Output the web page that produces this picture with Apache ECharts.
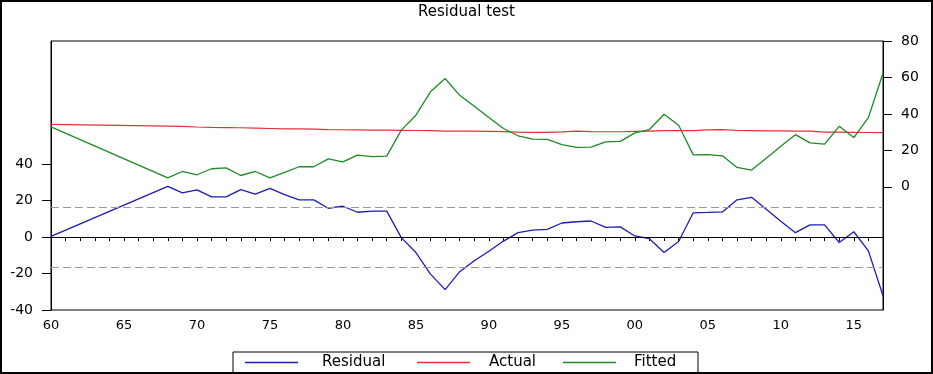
<!DOCTYPE html>
<html>
<head>
<meta charset="utf-8">
<script src="https://cdn.jsdelivr.net/npm/echarts@6/dist/echarts.min.js"></script>
<style>
html,body{margin:0;padding:0;background:#fff;}
#chart{width:933px;height:374px;}
</style>
</head>
<body>
<div id="chart"></div>
<script>
// ---- data ----
const years = [1960, 1968, 1969, 1970, 1971, 1972, 1973, 1974, 1975, 1976, 1977, 1978, 1979,
  1980, 1981, 1982, 1983, 1984, 1985, 1986, 1987, 1988, 1989, 1990, 1991, 1992, 1993, 1994,
  1995, 1996, 1997, 1998, 1999, 2000, 2001, 2002, 2003, 2004, 2005, 2006, 2007, 2008, 2009,
  2010, 2011, 2012, 2013, 2014, 2015, 2016, 2017];
const residual = [0.4, 27.8, 24.2, 25.9, 22.0, 22.0, 26.0, 23.5, 26.7, 23.3, 20.4, 20.4, 15.8,
  16.9, 13.6, 14.2, 14.2, -0.3, -8.5, -20.3, -28.8, -19.0, -13.0, -7.8, -2.2, 2.4, 3.8, 4.2,
  7.7, 8.4, 8.8, 5.3, 5.6, 0.6, -0.9, -8.5, -2.4, 13.3, 13.5, 13.8, 20.4, 21.8, 15.3,
  8.7, 2.4, 6.7, 6.7, -3.0, 2.9, -7.6, -32.2];
const actual = [34.2, 33.3, 33.2, 32.8, 32.6, 32.5, 32.4, 32.2, 32.0, 31.8, 31.8, 31.6, 31.4,
  31.3, 31.2, 31.1, 31.1, 31.0, 30.9, 30.8, 30.6, 30.5, 30.5, 30.4, 30.3, 30.0, 29.9, 29.9,
  30.1, 30.6, 30.3, 30.2, 30.2, 30.4, 30.6, 30.8, 30.8, 30.8, 31.2, 31.4, 30.9, 30.8, 30.7,
  30.7, 30.6, 30.5, 30.0, 30.0, 29.9, 29.8, 29.7];
const fitted = [32.9, 4.9, 8.4, 6.6, 9.9, 10.4, 6.2, 8.4, 4.9, 7.9, 11.0, 11.0, 15.3,
  13.7, 17.4, 16.6, 16.8, 31.1, 39.3, 52.1, 59.4, 50.2, 44.2, 38.0, 32.0, 28.0, 26.2, 26.0,
  23.2, 21.6, 21.8, 24.7, 24.9, 29.6, 31.4, 39.8, 33.8, 17.5, 17.6, 17.0, 10.6, 9.2, 15.7,
  22.3, 28.6, 24.1, 23.4, 33.2, 27.0, 38.0, 62.3];
const bandLevels = [16.4, -16.4];   // dashed +/- std. error lines
const zeroLevel = [0];
const xLabelYears = [1960, 1965, 1970, 1975, 1980, 1985, 1990, 1995, 2000, 2005, 2010, 2015];
const leftTicks = [-40, -20, 0, 20, 40];
const rightTicks = [0, 20, 40, 60, 80];
const seriesNames = ['Residual', 'Actual', 'Fitted'];

const pairs = (vals) => years.map((y, i) => [y, vals[i]]);
const FONT = 'DejaVu Sans';

const chart = echarts.init(document.getElementById('chart'), null, {renderer: 'canvas'});
chart.setOption({
  animation: false,
  backgroundColor: '#fff',
  title: {
    text: 'Residual test',
    left: 'center',
    top: 0,
    textStyle: {fontFamily: FONT, fontSize: 15, fontWeight: 'normal', color: '#000'}
  },
  grid: {
    left: 51, right: 50, top: 41, bottom: 64,
    show: true, borderColor: '#000', borderWidth: 1, backgroundColor: 'transparent'
  },
  legend: {
    left: 233, top: 352,
    orient: 'horizontal',
    icon: 'rect',
    itemWidth: 53, itemHeight: 1.5,
    itemGap: 0,
    padding: [3, 7, 3, 12],
    borderColor: '#000', borderWidth: 1,
    backgroundColor: '#fff',
    selectedMode: false,
    textStyle: {fontFamily: FONT, fontSize: 15, lineHeight: 15, color: '#000'},
    data: [
      {name: seriesNames[0], textStyle: {width: 95, padding: [0, 0, 0, 19]}},
      {name: seriesNames[1], textStyle: {width: 74, padding: [0, 0, 0, 14]}},
      {name: seriesNames[2], textStyle: {width: 57, padding: [0, 0, 0, 13]}}
    ]
  },
  xAxis: {
    type: 'value',
    min: 1960, max: 2017, interval: 1,
    axisLine: {show: true, lineStyle: {color: '#000', width: 1}},
    axisTick: {show: true, inside: false, length: 4, lineStyle: {color: '#000'}},
    axisLabel: {
      customValues: xLabelYears,
      margin: 9,
      fontFamily: FONT, fontSize: 13, color: '#000',
      formatter: (v) => String(v % 100).padStart(2, '0')
    },
    splitLine: {show: false}
  },
  yAxis: [
    {
      type: 'value', position: 'left',
      min: -40, max: 107.5,
      axisLine: {show: true, lineStyle: {color: '#000'}},
      axisTick: {show: true, customValues: leftTicks, length: 9, lineStyle: {color: '#000'}},
      axisLabel: {customValues: leftTicks, margin: 18, fontFamily: FONT, fontSize: 14, color: '#000'},
      splitLine: {show: false}
    },
    {
      type: 'value', position: 'right',
      min: -67.6, max: 80,
      axisLine: {show: true, lineStyle: {color: '#000'}},
      axisTick: {show: true, customValues: rightTicks, length: 9, lineStyle: {color: '#000'}},
      axisLabel: {customValues: rightTicks, margin: 18, fontFamily: FONT, fontSize: 14, color: '#000'},
      splitLine: {show: false}
    }
  ],
  series: [
    {
      name: seriesNames[0], type: 'line', yAxisIndex: 0,
      data: pairs(residual),
      symbol: 'none', lineStyle: {color: '#1c1cb8', width: 1.3}, itemStyle: {color: '#1c1cb8'},
      z: 3,
      markLine: {
        silent: true, symbol: 'none', label: {show: false},
        data: [
          ...bandLevels.map(v => ({yAxis: v, lineStyle: {color: '#9a9a9a', type: [8, 4], width: 1}})),
          ...zeroLevel.map(v => ({yAxis: v, lineStyle: {color: '#000', type: 'solid', width: 1}}))
        ]
      }
    },
    {
      name: seriesNames[1], type: 'line', yAxisIndex: 1,
      data: pairs(actual),
      symbol: 'none', lineStyle: {color: '#e4303a', width: 1.2}, itemStyle: {color: '#e4303a'},
      z: 2
    },
    {
      name: seriesNames[2], type: 'line', yAxisIndex: 1,
      data: pairs(fitted),
      symbol: 'none', lineStyle: {color: '#1f8a26', width: 1.3}, itemStyle: {color: '#1f8a26'},
      z: 2
    }
  ],
  graphic: [{
    type: 'rect', silent: true, z: 100,
    shape: {x: 1, y: 1, width: 931, height: 372},
    style: {fill: 'none', stroke: '#000', lineWidth: 2}
  }]
});
</script>
</body>
</html>
